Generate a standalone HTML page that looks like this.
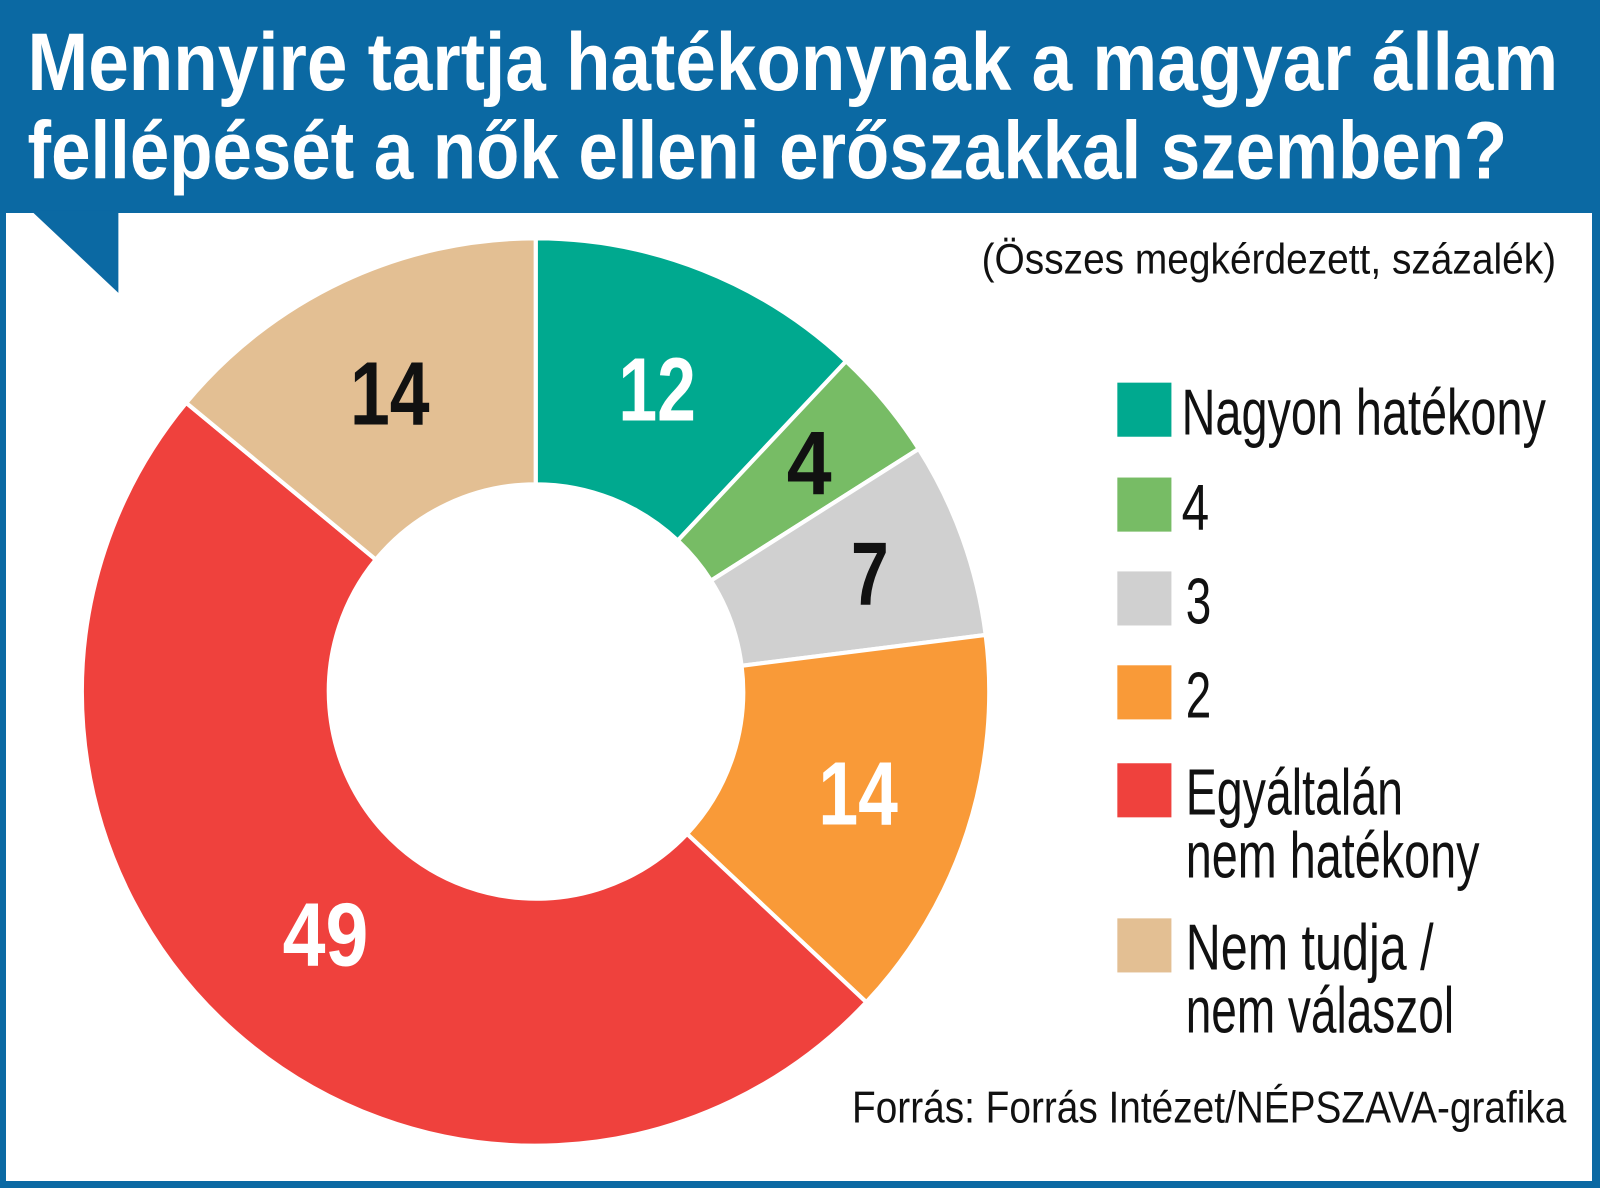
<!DOCTYPE html>
<html><head><meta charset="utf-8"><style>
html,body{margin:0;padding:0;background:#fff}
svg{display:block}
text{font-family:"Liberation Sans Narrow","Liberation Sans",sans-serif}
</style></head><body>
<svg width="1600" height="1188" viewBox="0 0 1600 1188" xmlns="http://www.w3.org/2000/svg">
<rect x="0" y="0" width="1600" height="1188" fill="#0b69a3"/>
<rect x="6" y="213" width="1586" height="968" fill="#fff"/>
<g transform="scale(1.0204)">
<polygon points="30,206 116,206 116,287" fill="#0b69a3"/>
<text x="27" y="88" font-size="80" font-weight="bold" fill="#fff" textLength="1500" lengthAdjust="spacingAndGlyphs">Mennyire tartja hatékonynak a magyar állam</text>
<text x="27" y="175" font-size="80" font-weight="bold" fill="#fff" textLength="1450" lengthAdjust="spacingAndGlyphs">fellépését a nők elleni erőszakkal szemben?</text>
<text x="962" y="268" font-size="42" fill="#111" textLength="563" lengthAdjust="spacingAndGlyphs">(Összes megkérdezett, százalék)</text>
<g stroke="#fff" stroke-width="4" stroke-linejoin="miter" transform="translate(525,678) scale(1.017) translate(-525,-680)">
<path d="M525,243 A437,437 0 0 1 824.1,361.4 L661.9,534.2 A200,200 0 0 0 525,480 Z" fill="#00a98f"/>
<path d="M824.1,361.4 A437,437 0 0 1 894.1,445.9 L693.9,572.8 A200,200 0 0 0 661.9,534.2 Z" fill="#77bc65"/>
<path d="M894.1,445.9 A437,437 0 0 1 958.6,625.2 L723.4,654.9 A200,200 0 0 0 693.9,572.8 Z" fill="#d0d0d0"/>
<path d="M958.6,625.2 A437,437 0 0 1 843.6,979.1 L670.8,816.9 A200,200 0 0 0 723.4,654.9 Z" fill="#f99a38"/>
<path d="M843.6,979.1 A437,437 0 0 1 188.2,401.5 L370.9,552.6 A200,200 0 0 0 670.8,816.9 Z" fill="#ef413d"/>
<path d="M188.2,401.5 A437,437 0 0 1 525,243 L525,480 A200,200 0 0 0 370.9,552.6 Z" fill="#e3bf93"/>
</g>
<g font-size="88" font-weight="bold">
<text x="606" y="412" fill="#fff" textLength="76" lengthAdjust="spacingAndGlyphs">12</text>
<text x="771" y="484" fill="#111" textLength="44" lengthAdjust="spacingAndGlyphs">4</text>
<text x="834" y="593" fill="#111" textLength="37" lengthAdjust="spacingAndGlyphs">7</text>
<text x="802" y="808" fill="#fff" textLength="78" lengthAdjust="spacingAndGlyphs">14</text>
<text x="277" y="946" fill="#fff" textLength="84" lengthAdjust="spacingAndGlyphs">49</text>
<text x="343" y="416" fill="#111" textLength="78" lengthAdjust="spacingAndGlyphs">14</text>
</g>
<rect x="1095" y="375" width="53" height="53" fill="#00a98f"/>
<rect x="1095" y="468" width="53" height="53" fill="#77bc65"/>
<rect x="1095" y="560" width="53" height="53" fill="#d0d0d0"/>
<rect x="1095" y="652" width="53" height="53" fill="#f99a38"/>
<rect x="1095" y="748" width="53" height="53" fill="#ef413d"/>
<rect x="1095" y="900" width="53" height="53" fill="#e3bf93"/>
<g font-size="64" fill="#111">
<text x="1158" y="426" textLength="357" lengthAdjust="spacingAndGlyphs">Nagyon hatékony</text>
<text x="1158" y="519" textLength="27" lengthAdjust="spacingAndGlyphs">4</text>
<text x="1162" y="611" textLength="25" lengthAdjust="spacingAndGlyphs">3</text>
<text x="1162" y="703" textLength="25" lengthAdjust="spacingAndGlyphs">2</text>
<text x="1162" y="798" textLength="213" lengthAdjust="spacingAndGlyphs">Egyáltalán</text>
<text x="1162" y="860" textLength="288" lengthAdjust="spacingAndGlyphs">nem hatékony</text>
<text x="1162" y="950" textLength="243" lengthAdjust="spacingAndGlyphs">Nem tudja /</text>
<text x="1162" y="1012" textLength="263" lengthAdjust="spacingAndGlyphs">nem válaszol</text>
</g>
<text x="835" y="1100" font-size="44" fill="#111" textLength="700" lengthAdjust="spacingAndGlyphs">Forrás: Forrás Intézet/NÉPSZAVA-grafika</text>
</g>
</svg>
</body></html>
